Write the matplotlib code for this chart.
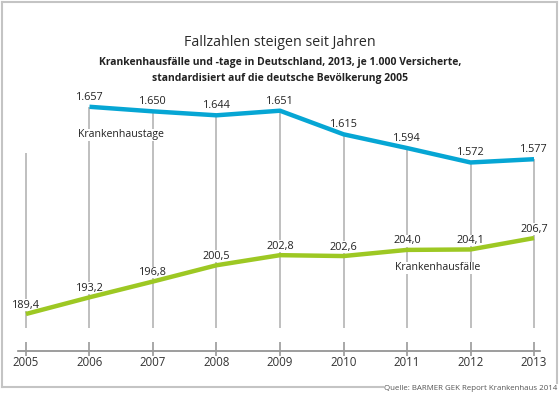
import matplotlib
matplotlib.use("Agg")
import matplotlib.pyplot as plt
from matplotlib.lines import Line2D

years = [2005, 2006, 2007, 2008, 2009, 2010, 2011, 2012, 2013]
tage_years = [2006, 2007, 2008, 2009, 2010, 2011, 2012, 2013]
tage = [1657, 1650, 1644, 1651, 1615, 1594, 1572, 1577]          # Krankenhaustage je 1.000
faelle = [189.4, 193.2, 196.8, 200.5, 202.8, 202.6, 204.0, 204.1, 206.7]  # Krankenhausfälle je 1.000

BLUE = "#06a6d4"
GREEN = "#9dc823"
GRID = "#b4b4b4"
INK = "#222222"
FRAME = "#c4c4c4"
BOX = dict(facecolor="white", edgecolor="none", pad=0.3)

plt.rcParams["font.family"] = ["Open Sans", "DejaVu Sans"]

W, H = 560, 397
fig = plt.figure(figsize=(W / 100, H / 100), dpi=100)
ax = fig.add_axes([0, 0, 1, 1])
ax.set_xlim(2004.591, 2013.409)
ax.set_ylim(170.49, 260.93)
ax.axis("off")
ax2 = ax.twinx()
ax2.set_ylim(1214, 1820)
ax2.axis("off")

def fy(px):  # pixel row from top -> axes fraction
    return (H - px) / H

# vertical grid lines: 2005 free-standing, the others hang from the blue line
xt = ax.get_xaxis_transform()
lo, hi = ax2.get_ylim()
tops = [fy(153)] + [(v - lo) / (hi - lo) for v in tage]
ax.vlines(years, fy(328), tops, color=GRID, lw=1.2, transform=xt, zorder=1)

# x axis
ax.plot([2004.874, 2013.094], [fy(351)] * 2, color="#8c8c8c", lw=1.2,
        transform=xt, clip_on=False)
ax.vlines(years, fy(356), fy(342), color="#9a9a9a", lw=1.2, transform=xt)
for yr in years:
    ax.text(yr, fy(363), str(yr), ha="center", va="center", fontsize=8.3,
            color="#333333", transform=xt)

# lines
ax.plot(years, faelle, color=GREEN, lw=3.2, solid_capstyle="butt", zorder=3)
ax2.plot(tage_years, tage, color=BLUE, lw=3.2, solid_capstyle="butt", zorder=3)

for x, v in zip(years, faelle):
    ax.annotate(f"{v:.1f}".replace(".", ","), (x, v), xytext=(0, 2.5),
                textcoords="offset points", ha="center", va="bottom",
                fontsize=7.8, color=INK, bbox=BOX, zorder=2)
for x, v in zip(tage_years, tage):
    ax2.annotate(f"{v:,}".replace(",", "."), (x, v), xytext=(0, 3),
                 textcoords="offset points", ha="center", va="bottom",
                 fontsize=7.8, color=INK, bbox=BOX, zorder=2)

ax.text(78 / W, fy(135), "Krankenhaustage", transform=ax.transAxes,
        ha="left", va="center", fontsize=7.6, color=INK, bbox=BOX, zorder=2)
ax.text(395 / W, fy(268), "Krankenhausfälle", transform=ax.transAxes,
        ha="left", va="center", fontsize=7.6, color=INK, bbox=BOX, zorder=2)

# titles
fig.text(0.5, fy(43), "Fallzahlen steigen seit Jahren", ha="center", va="center",
         fontsize=10.3, color="#2a2a2a")
fig.text(0.5, fy(62), "Krankenhausfälle und -tage in Deutschland, 2013, je 1.000 Versicherte,",
         ha="center", va="center", fontsize=7.5, fontweight="bold", color=INK)
fig.text(0.5, fy(78), "standardisiert auf die deutsche Bevölkerung 2005",
         ha="center", va="center", fontsize=7.5, fontweight="bold", color=INK)
fig.text(557 / W, fy(389), "Quelle: BARMER GEK Report Krankenhaus 2014",
         ha="right", va="center", fontsize=5.7, color="#555555")

# frame
for xs, ys in [((2, 557), (2, 2)), ((2, 2), (2, 387)), ((557, 557), (2, 383)),
               ((2, 383), (387, 387))]:
    fig.add_artist(Line2D([x / W for x in xs], [fy(y) for y in ys],
                          color=FRAME, lw=1.5))

fig.savefig("out.png", dpi=100)
